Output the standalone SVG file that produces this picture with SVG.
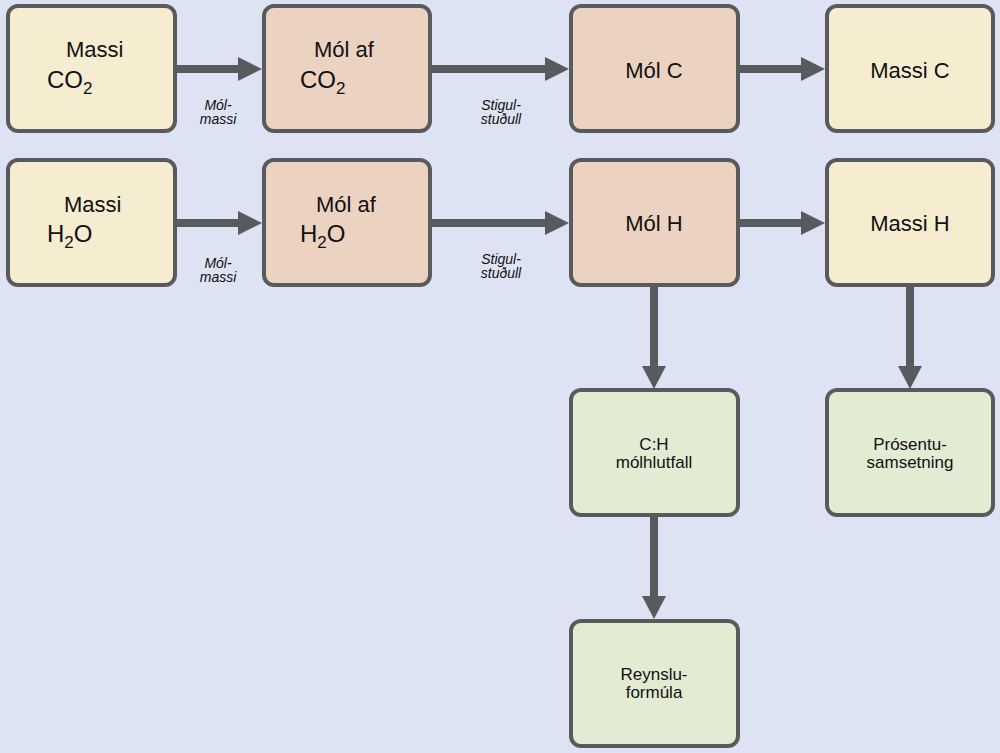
<svg xmlns="http://www.w3.org/2000/svg" width="1000" height="753" viewBox="0 0 1000 753">
<style>
.b{stroke:#595a5e;stroke-width:4}
.y{fill:#f6ecd0}.p{fill:#ecd3c1}.g{fill:#e4ebd3}
.t{font-family:"Liberation Sans",Arial,sans-serif;font-size:22px;fill:#111}
.t2{font-size:24px}
.s{font-family:"Liberation Sans",Arial,sans-serif;font-size:17px;fill:#111;text-anchor:middle}
.l{font-family:"Liberation Sans",Arial,sans-serif;font-size:14px;font-style:italic;fill:#111;text-anchor:middle}
.c{stroke:#595a5e;stroke-width:8;fill:none}
.h{fill:#595a5e}
</style>
<rect width="1000" height="753" fill="#dee3f3"/>
<g id="connectors">
<line class="c" x1="175" y1="69" x2="240" y2="69"/><polygon class="h" points="238,57 262,69 238,81"/>
<line class="c" x1="430" y1="69" x2="547" y2="69"/><polygon class="h" points="545,57 569,69 545,81"/>
<line class="c" x1="738" y1="69" x2="803" y2="69"/><polygon class="h" points="801,57 825,69 801,81"/>
<line class="c" x1="175" y1="223" x2="240" y2="223"/><polygon class="h" points="238,211 262,223 238,235"/>
<line class="c" x1="430" y1="223" x2="547" y2="223"/><polygon class="h" points="545,211 569,223 545,235"/>
<line class="c" x1="738" y1="223" x2="803" y2="223"/><polygon class="h" points="801,211 825,223 801,235"/>
<line class="c" x1="654" y1="285" x2="654" y2="368"/><polygon class="h" points="642,366 654,389 666,366"/>
<line class="c" x1="910" y1="285" x2="910" y2="368"/><polygon class="h" points="898,366 910,389 922,366"/>
<line class="c" x1="654" y1="515" x2="654" y2="598"/><polygon class="h" points="642,596 654,619 666,596"/>
<text class="l" x="218" y="110">Mól-</text><text class="l" x="218" y="124">massi</text>
<text class="l" x="501" y="110">Stigul-</text><text class="l" x="501" y="124">stuðull</text>
<text class="l" x="218" y="268">Mól-</text><text class="l" x="218" y="282">massi</text>
<text class="l" x="501" y="264">Stigul-</text><text class="l" x="501" y="278">stuðull</text>
</g>
<g id="n1"><rect class="b y" x="8" y="6" width="167" height="125" rx="10"/><text class="t" x="66" y="57">Massi</text><text class="t t2" x="47" y="88">CO<tspan font-size="17" dy="6">2</tspan></text></g>
<g id="n2"><rect class="b p" x="264" y="6" width="166" height="125" rx="10"/><text class="t" x="314" y="57">Mól af</text><text class="t t2" x="300" y="88">CO<tspan font-size="17" dy="6">2</tspan></text></g>
<g id="n3"><rect class="b p" x="571" y="6" width="167" height="125" rx="10"/><text class="t" x="654" y="78" text-anchor="middle">Mól C</text></g>
<g id="n4"><rect class="b y" x="827" y="6" width="166" height="125" rx="10"/><text class="t" x="910" y="78" text-anchor="middle">Massi C</text></g>
<g id="n5"><rect class="b y" x="8" y="160" width="167" height="125" rx="10"/><text class="t" x="64" y="212">Massi</text><text class="t t2" x="47" y="242">H<tspan font-size="17" dy="6">2</tspan><tspan dy="-6">O</tspan></text></g>
<g id="n6"><rect class="b p" x="264" y="160" width="166" height="125" rx="10"/><text class="t" x="316" y="212">Mól af</text><text class="t t2" x="300" y="242">H<tspan font-size="17" dy="6">2</tspan><tspan dy="-6">O</tspan></text></g>
<g id="n7"><rect class="b p" x="571" y="160" width="167" height="125" rx="10"/><text class="t" x="654" y="231" text-anchor="middle">Mól H</text></g>
<g id="n8"><rect class="b y" x="827" y="160" width="166" height="125" rx="10"/><text class="t" x="910" y="231" text-anchor="middle">Massi H</text></g>
<g id="n9"><rect class="b g" x="571" y="390" width="167" height="125" rx="10"/><text class="s" x="654" y="450">C:H</text><text class="s" x="654" y="468">mólhlutfall</text></g>
<g id="n10"><rect class="b g" x="827" y="390" width="166" height="125" rx="10"/><text class="s" x="910" y="450">Prósentu-</text><text class="s" x="910" y="468">samsetning</text></g>
<g id="n11"><rect class="b g" x="571" y="621" width="167" height="125" rx="10"/><text class="s" x="654" y="680">Reynslu-</text><text class="s" x="654" y="698">formúla</text></g>
</svg>
